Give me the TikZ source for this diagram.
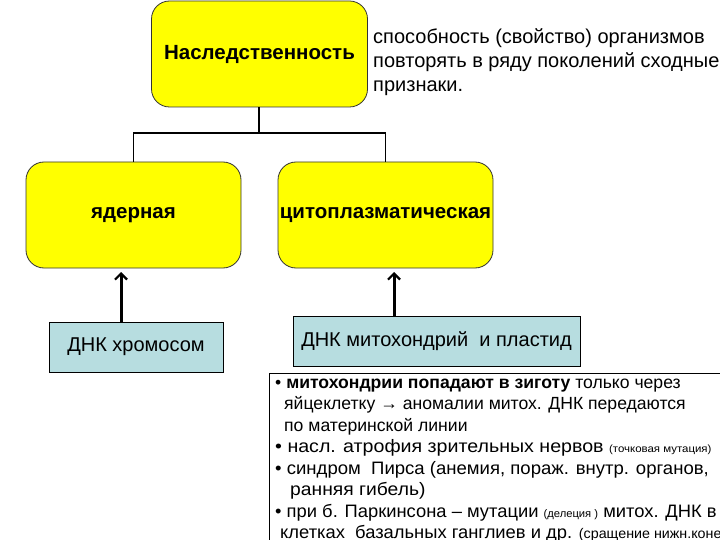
\documentclass[tikz,border=0pt]{standalone}
\usepackage{fontspec}
\setmainfont{Liberation Sans}
\usetikzlibrary{arrows.meta}
\definecolor{yel}{HTML}{FFFF00}
\definecolor{lblue}{HTML}{B7DDE0}
\definecolor{bord}{HTML}{333333}
\tikzset{
  ybox/.style={draw=bord, line width=0.8pt, fill=yel, rounded corners=18pt, inner sep=0pt,
    font=\fontsize{20.5}{24}\selectfont\bfseries, align=center},
  bbox/.style={draw=black, line width=0.8pt, fill=lblue, inner sep=0pt,
    font=\fontsize{20}{24}\selectfont},
  conn/.style={draw=black, line width=1.6pt},
  uparrow/.style={draw=black, line width=3pt, -{Straight Barb[length=6pt,width=12pt,line width=2.2pt]}},
  txt/.style={anchor=base west, inner sep=0pt, font=\fontsize{17.6}{21}\selectfont},
  txtb/.style={anchor=base west, inner sep=0pt, font=\fontsize{18}{21}\selectfont},
  deftxt/.style={anchor=base west, inner sep=0pt, font=\fontsize{20}{24}\selectfont}
}
\newcommand{\smalltxt}[2]{{\fontsize{#1}{#1}\selectfont #2}}
\begin{document}
\begin{tikzpicture}[x=1pt,y=-1pt]
\useasboundingbox (0,0) rectangle (720,540);
\clip (0,0) rectangle (720,540);
\fill[white] (0,0) rectangle (720,540);

\node[ybox, minimum width=216pt, minimum height=106pt] (top) at (259.5,54) {Наследственность};
\node[ybox, minimum width=215pt, minimum height=106pt] (nuc) at (133.5,215) {ядерная};
\node[ybox, minimum width=215pt, minimum height=106pt] (cyt) at (385.5,215) {цитоплазматическая};

\node[bbox, minimum width=174pt, minimum height=50pt] (dnk1) at (136,347) {ДНК хромосом};
\node[bbox, minimum width=287pt, minimum height=50pt] (dnk2) at (436.5,341) {ДНК митохондрий\ \ и пластид};

% tree connector
\coordinate (mid) at (259,133);
\draw[conn] (top.south -| mid) -- (mid);
\draw[conn] (nuc.north) |- (mid) -| (cyt.north);

% arrows
\coordinate (a1) at (121,272);
\coordinate (a2) at (394,272);
\draw[uparrow] (dnk1.north -| a1) -- (a1);
\draw[uparrow] (dnk2.north -| a2) -- (a2);

% definition text
\node[deftxt] (d1) at (373,44) {способность (свойство) организмов};
\node[deftxt] (d2) at (373,68) {повторять в ряду поколений сходные};
\node[deftxt] (d3) at (373,92) {признаки.};

% text box
\draw[draw=black, line width=0.8pt, fill=white] (269,373) rectangle (760,600);
\node[txt] (l1) at (275,388) {• \textbf{митохондрии попадают в зиготу} только через};
\node[txt] (l2) at (284,409.5) {яйцеклетку → аномалии митох. ДНК передаются};
\node[txt] (l3) at (284,431) {по материнской линии};
\node[txtb] (l4) at (275,452.5) {\scalebox{1.09}[1]{• насл. атрофия зрительных нервов \smalltxt{10.5}{(точковая мутация)}}};
\node[txtb] (l5) at (275,474) {\scalebox{1.03}[1]{• синдром\ \ Пирса (анемия, пораж. внутр. органов,}};
\node[txtb] (l6) at (290,495.5) {\scalebox{1.07}[1]{ранняя гибель)}};
\node[txtb] (l7) at (275,517) {\scalebox{1.02}[1]{• при б. Паркинсона – мутации \smalltxt{11}{(делеция )} митох. ДНК в}};
\node[txtb] (l8) at (280,538) {\scalebox{1.02}[1]{клетках\ \ базальных ганглиев и др. \smalltxt{14}{(сращение нижн.конечн}}};
\end{tikzpicture}
\end{document}
